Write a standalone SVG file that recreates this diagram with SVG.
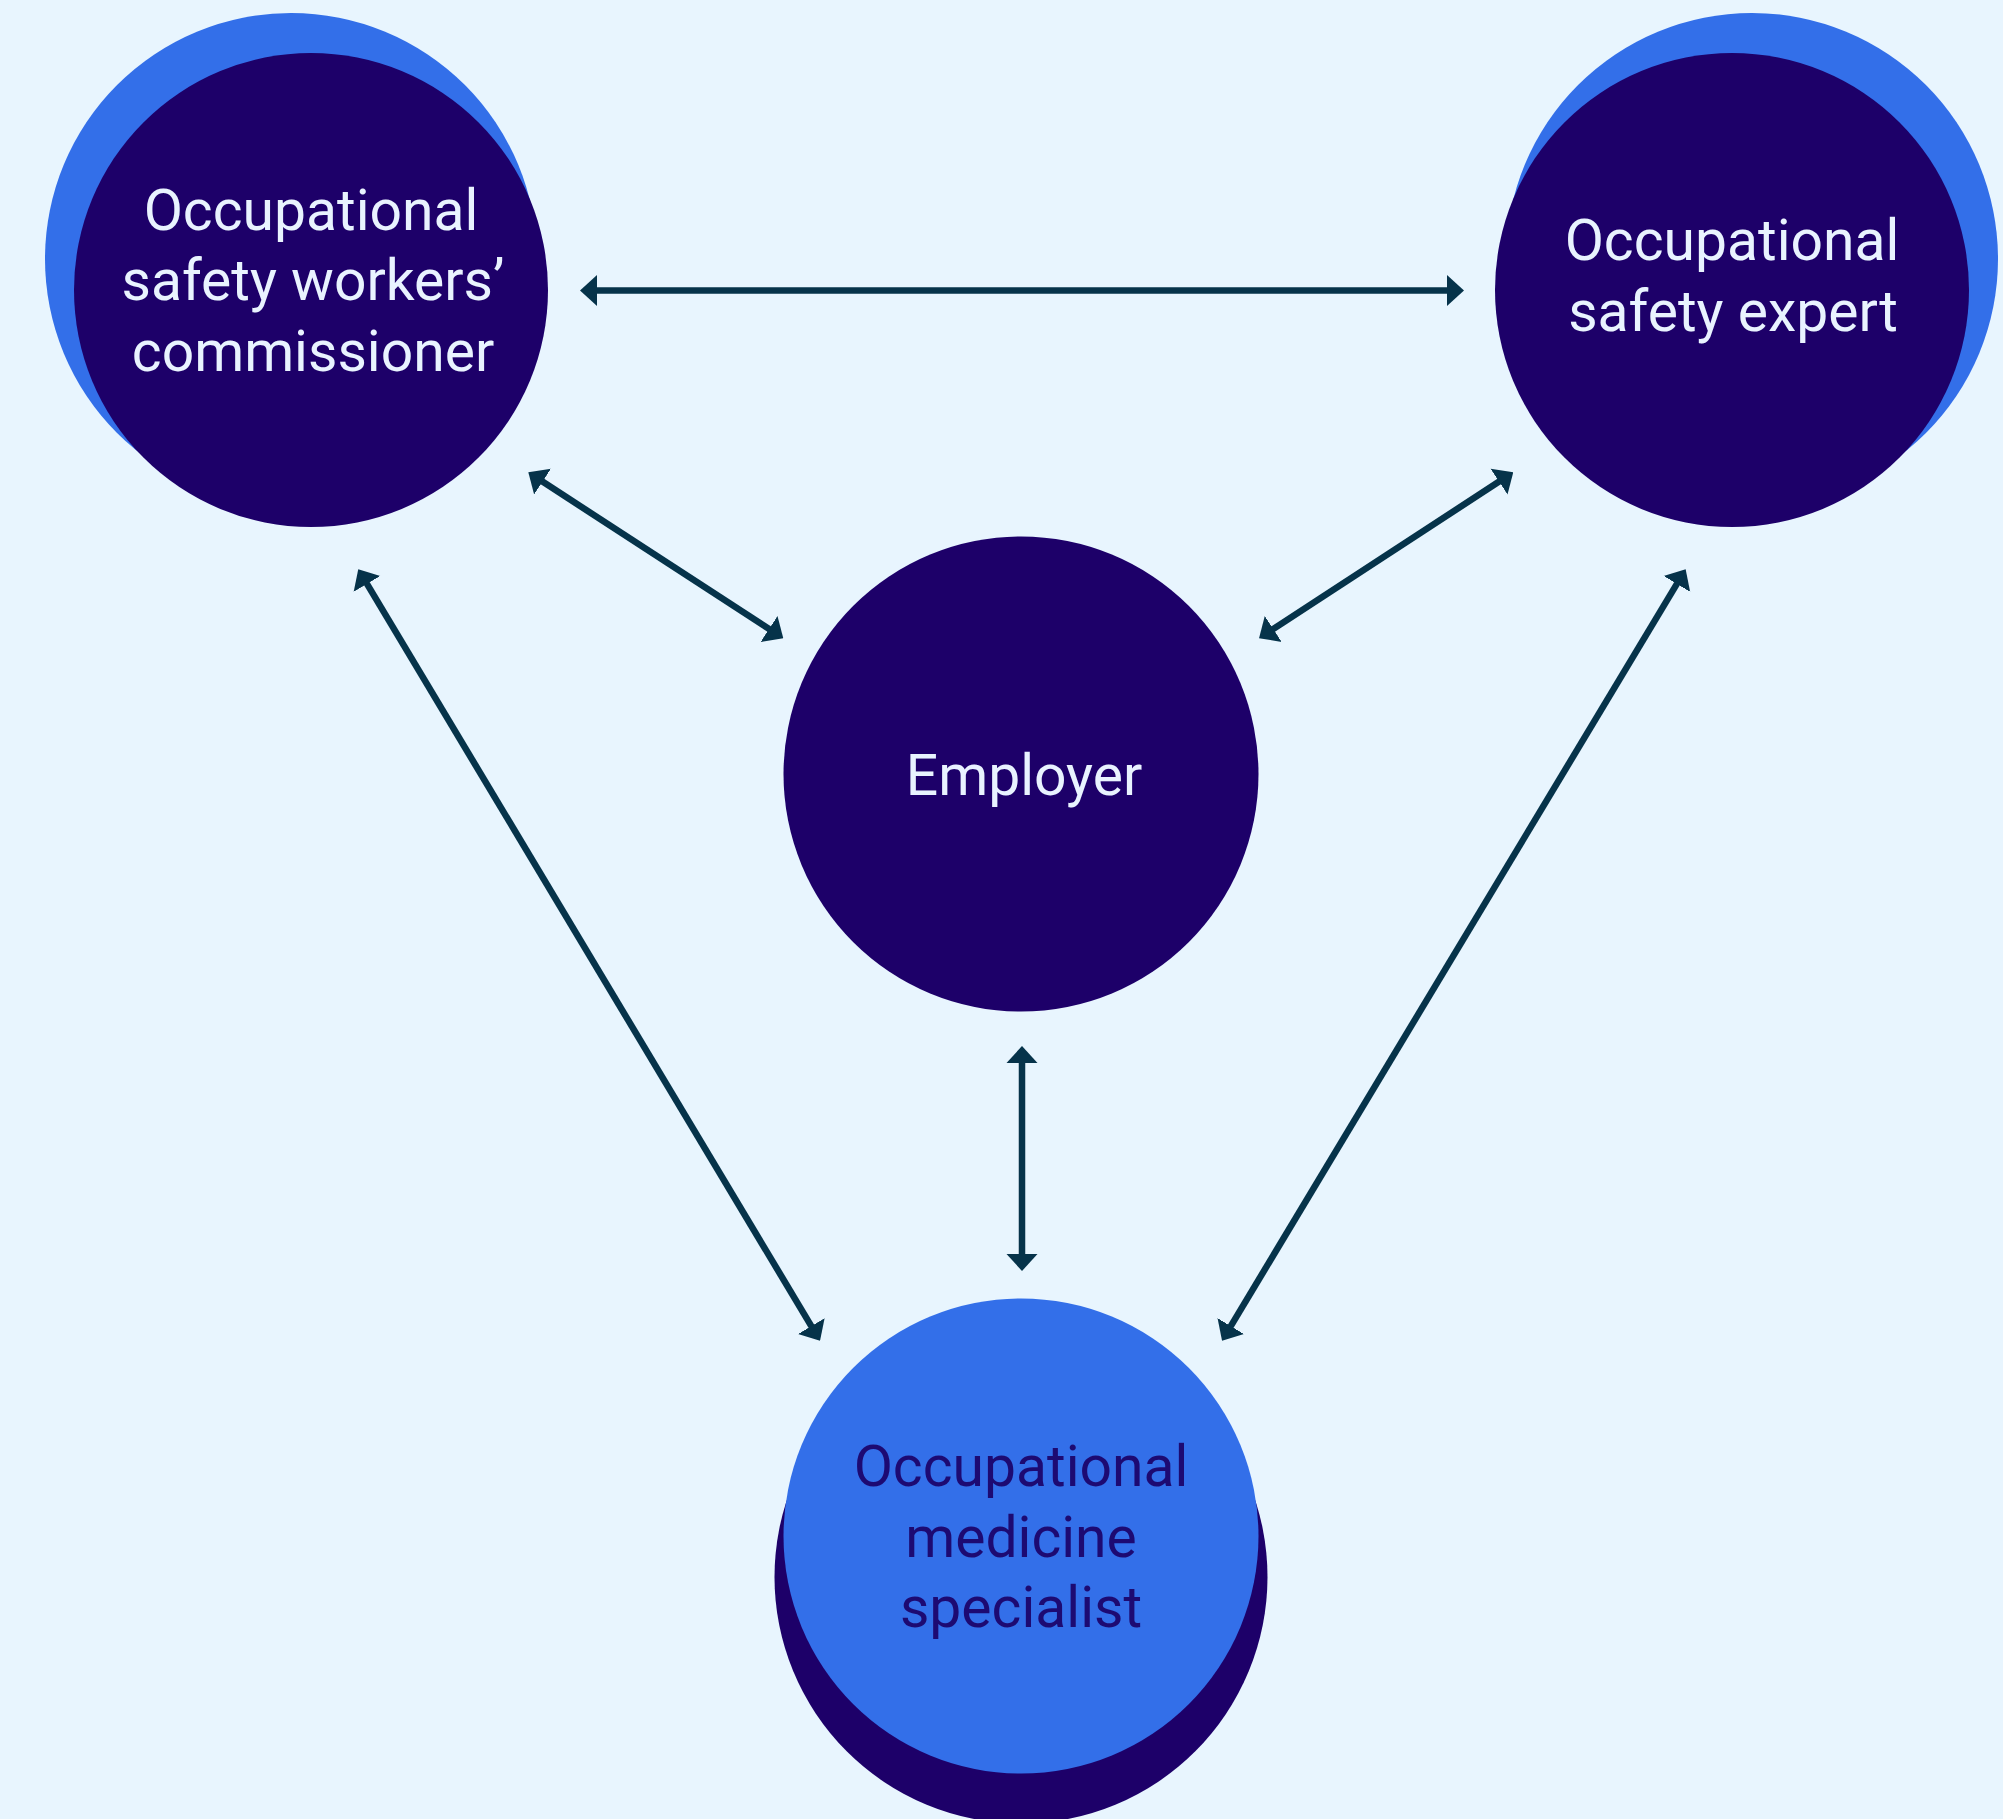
<svg xmlns="http://www.w3.org/2000/svg" width="2003" height="1819" viewBox="0 0 2003 1819">
  <style>
    .bg { fill: #e8f5fe; }
    .blue { fill: #336fe9; }
    .navy { fill: #1d0069; }
    .lbl { font-family: Roboto, "Liberation Sans", sans-serif; font-size: 57px; text-anchor: middle; }
    .light { fill: #e9f3ff; }
    .dark { fill: #1d0a72; }
    .conn { stroke: #06334a; stroke-width: 6.5; fill: none; marker-start: url(#ah); marker-end: url(#ah); }
  </style>
  <defs>
    <marker id="ah" viewBox="0 -16 17 32" markerUnits="userSpaceOnUse" markerWidth="17" markerHeight="32" refX="7" refY="0" orient="auto-start-reverse">
      <path d="M0,-15.5 L17,0 L0,15.5 Z" fill="#06334a"/>
    </marker>
  </defs>
  <rect class="bg" x="0" y="0" width="2003" height="1819"/>

  <g id="node-commissioner">
    <circle class="blue" cx="291" cy="259" r="246"/>
    <circle class="navy" cx="311" cy="290" r="237"/>
    <text class="lbl light" x="311" y="230">Occupational</text>
    <text class="lbl light" x="313" y="300">safety workers’</text>
    <text class="lbl light" x="313" y="371">commissioner</text>
  </g>

  <g id="node-expert">
    <circle class="blue" cx="1752" cy="259" r="246"/>
    <circle class="navy" cx="1732" cy="290" r="237"/>
    <text class="lbl light" x="1732" y="260">Occupational</text>
    <text class="lbl light" x="1733" y="331">safety expert</text>
  </g>

  <g id="node-employer">
    <circle class="navy" cx="1021" cy="774" r="237.5"/>
    <text class="lbl light" x="1024" y="795">Employer</text>
  </g>

  <g id="node-medicine">
    <circle class="navy" cx="1021" cy="1577" r="246.5"/>
    <circle class="blue" cx="1021" cy="1536" r="237.5"/>
    <text class="lbl dark" x="1021" y="1486">Occupational</text>
    <text class="lbl dark" x="1021" y="1557">medicine</text>
    <text class="lbl dark" x="1021" y="1627">specialist</text>
  </g>

  <g id="connectors">
    <line class="conn" x1="590" y1="290.5" x2="1454" y2="290.5"/>
    <line class="conn" x1="536.7" y1="477.8" x2="774.9" y2="632.8"/>
    <line class="conn" x1="1504.9" y1="477.8" x2="1267.4" y2="632.8"/>
    <line class="conn" x1="363.4" y1="577.9" x2="814.9" y2="1332.1"/>
    <line class="conn" x1="1680.5" y1="577.9" x2="1227.2" y2="1332.1"/>
    <line class="conn" x1="1022" y1="1056" x2="1022" y2="1261"/>
  </g>
</svg>
